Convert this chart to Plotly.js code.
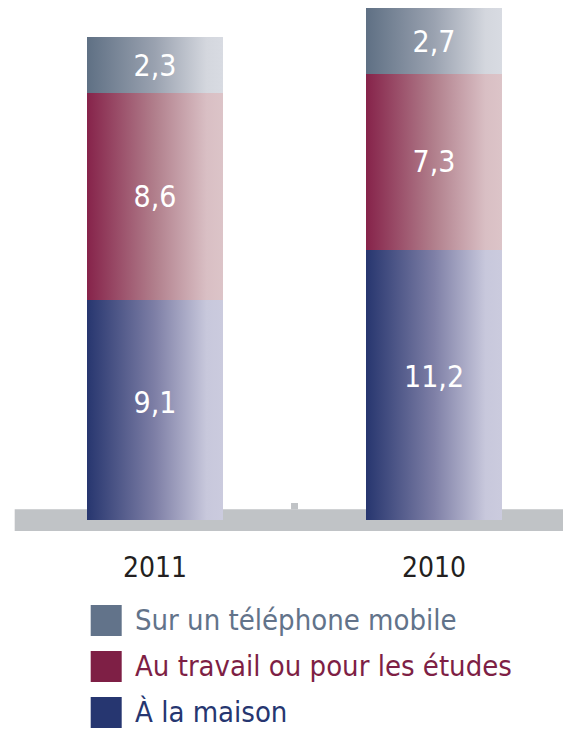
<!DOCTYPE html>
<html>
<head>
<meta charset="utf-8">
<script src="https://cdn.plot.ly/plotly-3.0.1.min.js"></script>
<style>
html,body{margin:0;padding:0;background:#fff;}
#chart{width:563px;height:729px;}
</style>
</head>
<body>
<div id="chart"></div>
<script>
// ---- data ----
var categories = ['2011', '2010'];
var maison = [9.1, 11.2];
var travail = [8.6, 7.3];
var mobile = [2.3, 2.7];
var seriesNames = ['À la maison', 'Au travail ou pour les études', 'Sur un téléphone mobile'];

// ---- styles ----
var FONT = '"DejaVu Sans Condensed", "DejaVu Sans", sans-serif';
var solidColors = ['#263670', '#7e1f45', '#62738a'];
var gradStops = [
  ['#27366f', '#7e7fa6', '#c8c8dc', '#cbcbde'],
  ['#86234a', '#b17f8c', '#d9bfc4', '#dcc4c8'],
  ['#5f7084', '#9aa2b0', '#d4d7de', '#d8dbe2']
];
var labelShift = [-8, 0, 0]; // vertical nudge of value labels per series (px)
var seriesValues = [maison, travail, mobile];

var traces = seriesValues.map(function (vals, i) {
  return {
    type: 'bar',
    x: categories,
    y: vals,
    name: seriesNames[i],
    width: 0.487,
    marker: {color: solidColors[i], line: {width: 0}},
    texttemplate: '%{y:.1f}',
    textposition: 'inside',
    insidetextanchor: 'middle',
    textangle: 0,
    constraintext: 'none',
    textfont: {family: FONT, size: 30, color: '#ffffff'},
    hoverinfo: 'skip',
    showlegend: false
  };
});

var shapes = [
  // grey baseline band
  {type: 'rect', layer: 'below', xref: 'paper', yref: 'y', x0: 0.0261, x1: 1, y0: -0.456, y1: 0.443,
   fillcolor: '#c0c3c6', line: {width: 0}},
  // small tick between categories
  {type: 'rect', layer: 'below', xref: 'x', yref: 'y', x0: 0.4875, x1: 0.5125, y0: 0.44, y1: 0.704,
   fillcolor: '#c0c3c6', line: {width: 0}}
];

// legend (top to bottom: mobile, travail, maison)
var annotations = [];
var legendOrder = [2, 1, 0];
var legendRowTop = [605, 651, 697];
legendOrder.forEach(function (si, r) {
  var top = legendRowTop[r], bot = top + 31;
  shapes.push({type: 'rect', xref: 'paper', yref: 'paper',
    x0: 90.7 / 563, x1: 121.7 / 563, y0: (540 - bot) / 540, y1: (540 - top) / 540,
    fillcolor: solidColors[si], line: {width: 0}});
  annotations.push({xref: 'paper', yref: 'paper', x: 133 / 563, y: (540 - (top + 14.5)) / 540,
    xanchor: 'left', yanchor: 'middle', showarrow: false, text: seriesNames[si],
    font: {family: FONT, size: 29, color: solidColors[si]}});
});

var layout = {
  width: 563, height: 729,
  margin: {l: 0, r: 0, t: 0, b: 189, pad: 0},
  paper_bgcolor: '#ffffff', plot_bgcolor: 'rgba(0,0,0,0)',
  barmode: 'stack',
  separators: ', ',
  showlegend: false,
  xaxis: {type: 'category', range: [-0.5556, 1.4623], showgrid: false, zeroline: false,
          showline: false, ticks: '', ticklabelstandoff: 8,
          tickfont: {family: FONT, size: 28, color: '#231f20'}, fixedrange: true},
  yaxis: {visible: false, range: [-0.829, 21.55], fixedrange: true},
  shapes: shapes,
  annotations: annotations
};

var gd = document.getElementById('chart');
Plotly.newPlot(gd, traces, layout, {displayModeBar: false, staticPlot: true}).then(function () {
  var svg = gd.querySelector('svg.main-svg');
  var defs = svg.querySelector('defs');
  var NS = 'http://www.w3.org/2000/svg';
  gradStops.forEach(function (stops, i) {
    var lg = document.createElementNS(NS, 'linearGradient');
    lg.setAttribute('id', 'bargrad' + i);
    lg.setAttribute('x1', '0'); lg.setAttribute('y1', '0');
    lg.setAttribute('x2', '1'); lg.setAttribute('y2', '0');
    var offs = [0, 0.5, 0.88, 1];
    stops.forEach(function (c, k) {
      var s = document.createElementNS(NS, 'stop');
      s.setAttribute('offset', offs[k]);
      s.setAttribute('stop-color', c);
      lg.appendChild(s);
    });
    defs.appendChild(lg);
  });
  var traceGroups = gd.querySelectorAll('.barlayer .trace');
  traceGroups.forEach(function (tg, i) {
    tg.querySelectorAll('.point path').forEach(function (p) {
      p.style.fill = 'url(#bargrad' + i + ')';
    });
    if (labelShift[i]) {
      tg.querySelectorAll('.point text').forEach(function (t) {
        var tr = t.getAttribute('transform') || '';
        t.setAttribute('transform', 'translate(0,' + labelShift[i] + ') ' + tr);
      });
    }
  });
});
</script>
</body>
</html>
